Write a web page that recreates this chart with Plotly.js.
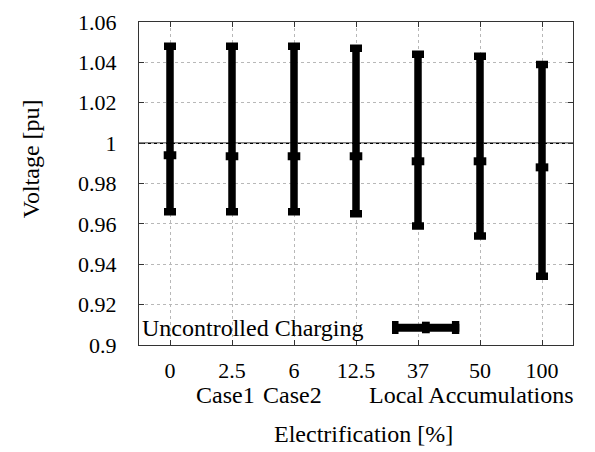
<!DOCTYPE html>
<html>
<head>
<meta charset="utf-8">
<script src="https://cdn.plot.ly/plotly-3.0.1.min.js"></script>
<style>html,body{margin:0;padding:0;background:#fff;}#chart{width:595px;height:452px;}</style>
</head>
<body>
<div id="chart"></div>
<script>
// Electrification levels (categories)
const categories = ['0', '2.5', '6', '12.5', '37', '50', '100'];
// Voltage envelope [pu]
const voltageMax = [1.048, 1.048, 1.048, 1.047, 1.044, 1.043, 1.039];
const voltageMean = [0.994, 0.9935, 0.9935, 0.9935, 0.991, 0.991, 0.988];
const voltageMin = [0.966, 0.966, 0.966, 0.965, 0.959, 0.954, 0.934];
const yTicks = [0.9, 0.92, 0.94, 0.96, 0.98, 1, 1.02, 1.04, 1.06];
const seriesName = 'Uncontrolled Charging';

const trace = {
  type: 'scatter',
  mode: 'markers',
  x: categories,
  y: voltageMean,
  showlegend: false,
  marker: {symbol: 'line-ew', size: 9, color: '#000', line: {color: '#000', width: 8}},
  error_y: {
    type: 'data',
    symmetric: false,
    array: voltageMax.map((v, i) => v - voltageMean[i]),
    arrayminus: voltageMean.map((v, i) => v - voltageMin[i]),
    color: '#000',
    thickness: 7.5,
    width: 6
  }
};

const layout = {
  width: 595,
  height: 452,
  margin: {l: 138.7, r: 22.3, t: 22.3, b: 107},
  showlegend: false,
  font: {family: 'Liberation Serif', size: 22, color: '#000'},
  xaxis: {
    type: 'category',
    range: [-0.5, 6.5],
    gridcolor: '#b8b8b8',
    griddash: 'dot',
    showline: true,
    linecolor: '#333',
    mirror: 'ticks',
    ticks: 'inside',
    ticklen: 5,
    tickcolor: '#333',
    ticklabelstandoff: 6,
    tickfont: {family: 'Liberation Serif', size: 22, color: '#000'},
    zeroline: false
  },
  yaxis: {
    range: [0.9, 1.06],
    tickvals: yTicks,
    gridcolor: '#b8b8b8',
    griddash: 'dot',
    showline: true,
    linecolor: '#333',
    mirror: 'ticks',
    ticks: 'inside',
    ticklen: 5,
    tickcolor: '#333',
    ticklabelstandoff: 17,
    tickfont: {family: 'Liberation Serif', size: 22, color: '#000'},
    zeroline: false
  },
  shapes: [
    {type: 'line', xref: 'paper', yref: 'y', x0: 0, x1: 1, y0: 1, y1: 1, line: {color: '#000', width: 1.5}, layer: 'below'},
    {type: 'line', xref: 'paper', yref: 'paper', x0: 0.583, x1: 0.738, y0: 0.0536, y1: 0.0536, line: {color: '#000', width: 8}},
    {type: 'rect', xref: 'paper', yref: 'paper', x0: 0.583, x1: 0.598, y0: 0.034, y1: 0.0744, fillcolor: '#000', line: {width: 0}},
    {type: 'rect', xref: 'paper', yref: 'paper', x0: 0.721, x1: 0.738, y0: 0.034, y1: 0.0744, fillcolor: '#000', line: {width: 0}},
    {type: 'rect', xref: 'paper', yref: 'paper', x0: 0.652, x1: 0.670, y0: 0.0363, y1: 0.0722, fillcolor: '#000', line: {width: 0}}
  ],
  annotations: [
    {text: seriesName, xref: 'paper', yref: 'paper', x: 0.003, y: 0.0536, xanchor: 'left', yanchor: 'middle', showarrow: false, font: {family: 'Liberation Serif', size: 24, color: '#000'}},
    {text: 'Case1', xref: 'paper', yref: 'paper', x: 0.199, y: -0.154, xanchor: 'center', yanchor: 'middle', showarrow: false, font: {family: 'Liberation Serif', size: 24, color: '#000'}},
    {text: 'Case2', xref: 'paper', yref: 'paper', x: 0.354, y: -0.154, xanchor: 'center', yanchor: 'middle', showarrow: false, font: {family: 'Liberation Serif', size: 24, color: '#000'}},
    {text: 'Local Accumulations', xref: 'paper', yref: 'paper', x: 0.765, y: -0.154, xanchor: 'center', yanchor: 'middle', showarrow: false, font: {family: 'Liberation Serif', size: 24, color: '#000'}},
    {text: 'Electrification [%]', xref: 'paper', yref: 'paper', x: 0.517, y: -0.276, xanchor: 'center', yanchor: 'middle', showarrow: false, font: {family: 'Liberation Serif', size: 24, color: '#000'}},
    {text: 'Voltage [pu]', xref: 'paper', yref: 'paper', x: -0.248, y: 0.576, xanchor: 'center', yanchor: 'middle', textangle: -90, showarrow: false, font: {family: 'Liberation Serif', size: 24, color: '#000'}}
  ]
};

Plotly.newPlot('chart', [trace], layout, {staticPlot: true});
</script>
</body>
</html>
